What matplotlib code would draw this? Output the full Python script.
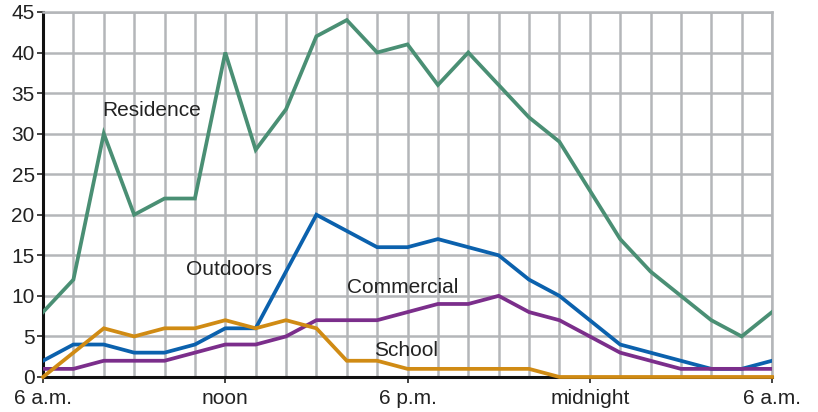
import numpy as np
import matplotlib
matplotlib.use('Agg')
import matplotlib.pyplot as plt

plt.rcParams['font.family'] = ['Liberation Sans', 'DejaVu Sans']

# hourly values, 6 a.m. to 6 a.m. next day
hours = np.arange(25)
residence = [8, 12, 30, 20, 22, 22, 40, 28, 33, 42, 44, 40, 41, 36, 40, 36, 32, 29, 23, 17, 13, 10, 7, 5, 8]
outdoors = [2, 4, 4, 3, 3, 4, 6, 6, 13, 20, 18, 16, 16, 17, 16, 15, 12, 10, 7, 4, 3, 2, 1, 1, 2]
commercial = [1, 1, 2, 2, 2, 3, 4, 4, 5, 7, 7, 7, 8, 9, 9, 10, 8, 7, 5, 3, 2, 1, 1, 1, 1]
school = [0, 3, 6, 5, 6, 6, 7, 6, 7, 6, 2, 2, 1, 1, 1, 1, 1, 0, 0, 0, 0, 0, 0, 0, 0]

tick_pos = [0, 6, 12, 18, 24]
tick_labels = ['6 a.m.', 'noon', '6 p.m.', 'midnight', '6 a.m.']

fig = plt.figure(figsize=(8.18, 4.12), dpi=100)
ax = fig.add_axes([0.0526, 0.085, 0.8912, 0.886])

grid_col = '#b4b6b9'
for h in hours[1:]:
  ax.axvline(h, color=grid_col, lw=1.8, zorder=1)
for v in range(5, 50, 5):
  ax.axhline(v, color=grid_col, lw=1.8, zorder=1)

lw = 2.7
ax.plot(hours, residence, color='#4a8f74', lw=lw, zorder=3, solid_joinstyle='miter')
ax.plot(hours, outdoors, color='#0b61ad', lw=lw, zorder=3, solid_joinstyle='miter')
ax.plot(hours, commercial, color='#7b2e8b', lw=lw, zorder=3, solid_joinstyle='miter')
ax.plot(hours, school, color='#d08b14', lw=lw, zorder=4, solid_joinstyle='miter', clip_on=False)

fs = 15
ax.text(1.95, 32.8, 'Residence', fontsize=fs, va='center', color='#222222')
ax.text(4.7, 13.3, 'Outdoors', fontsize=fs, va='center', color='#222222')
ax.text(10.0, 11.0, 'Commercial', fontsize=fs, va='center', color='#222222')
ax.text(10.9, 3.3, 'School', fontsize=fs, va='center', color='#222222')

ax.set_xlim(0, 24)
ax.set_ylim(0, 45)
ax.set_yticks(range(0, 50, 5))
ax.set_xticks(tick_pos)
ax.set_xticklabels(tick_labels)
ax.tick_params(axis='both', labelsize=fs, colors='#222222', width=1.2, length=4)
ax.tick_params(axis='x', pad=5)
ax.tick_params(axis='y', pad=2)

ax.spines['left'].set_linewidth(2.2)
ax.spines['left'].set_color('#111111')
ax.spines['bottom'].set_linewidth(2.2)
ax.spines['bottom'].set_color('#111111')
ax.spines['top'].set_color(grid_col)
ax.spines['top'].set_linewidth(1.8)
ax.spines['right'].set_color(grid_col)
ax.spines['right'].set_linewidth(1.8)

fig.savefig('out.png', dpi=100)
